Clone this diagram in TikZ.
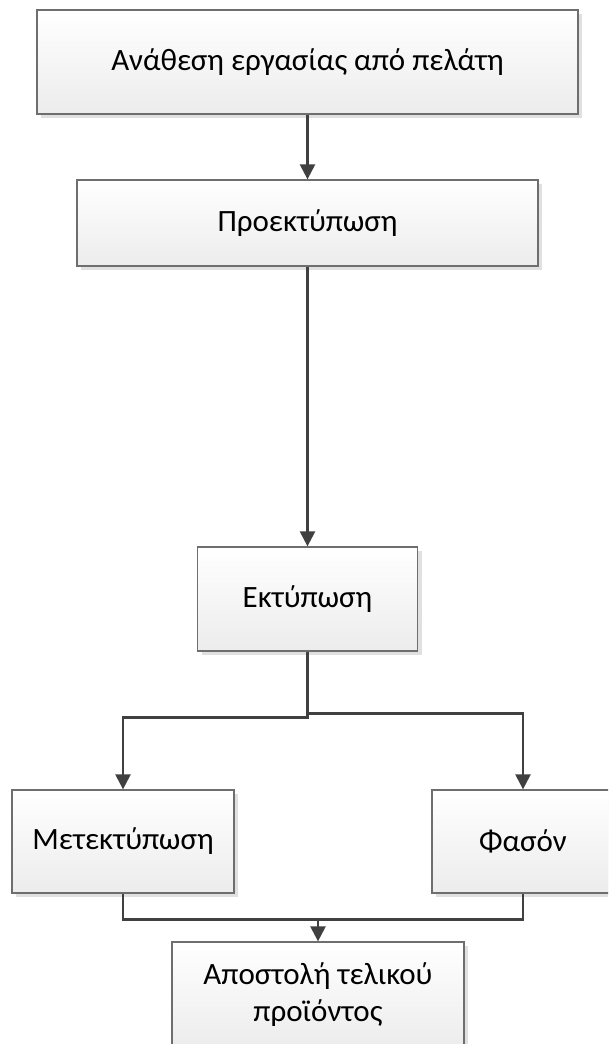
\documentclass[tikz,border=0pt]{standalone}
\usepackage{fontspec}
\setmainfont{Carlito}
\usetikzlibrary{arrows.meta,shadows}
\definecolor{boxline}{RGB}{110,110,110}
\definecolor{boxbottom}{RGB}{236,236,236}
\definecolor{flowline}{RGB}{64,64,64}
\definecolor{shadowgrey}{RGB}{224,224,224}
\begin{document}
\begin{tikzpicture}[x=1pt,y=-1pt,
  stepbox/.style={draw=boxline, line width=1.3pt, top color=white, bottom color=boxbottom,
    inner sep=0pt, align=center, font=\fontsize{31}{37}\selectfont,
    drop shadow={shadow xshift=4pt, shadow yshift=-4pt, fill=shadowgrey, opacity=1}},
  link/.style={draw=flowline, line width=2.4pt},
  flow/.style={link, -{Triangle[width=15pt,length=15pt]}}]
\clip (0,0) rectangle (608,1044);
\fill[white] (0,0) rectangle (608,1044);

% process steps
\node[stepbox, minimum width=541pt, minimum height=104pt] (b1) at (307.5,62) {Ανάθεση εργασίας από πελάτη};
\node[stepbox, minimum width=461pt, minimum height=86pt] (b2) at (307.5,223) {Προεκτύπωση};
\node[stepbox, minimum width=220pt, minimum height=104pt] (b3) at (307.5,599) {Εκτύπωση};
\node[stepbox, minimum width=222pt, minimum height=103pt] (b4) at (123,841.5) {Μετεκτύπωση};
\node[stepbox, minimum width=182pt, minimum height=103pt] (b5) at (523,841.5) {Φασόν};
\node[stepbox, minimum width=292pt, minimum height=106pt] (b6) at (318,995) {Αποστολή τελικού\\προϊόντος};

% connectors
\draw[flow] (b1.south) -- (b2.north);
\draw[flow] (b2.south) -- (b3.north);
\draw[flow] (b3.south) -- ++(0,66) -| (b4.north);
\draw[flow] (b3.south) -- ++(0,62) -| (b5.north);
\draw[link] (b4.south) -- ++(0,26) -| (b5.south);
\coordinate (merge) at (318,919);
\draw[flow] (merge) -- (b6.north);
\end{tikzpicture}
\end{document}
